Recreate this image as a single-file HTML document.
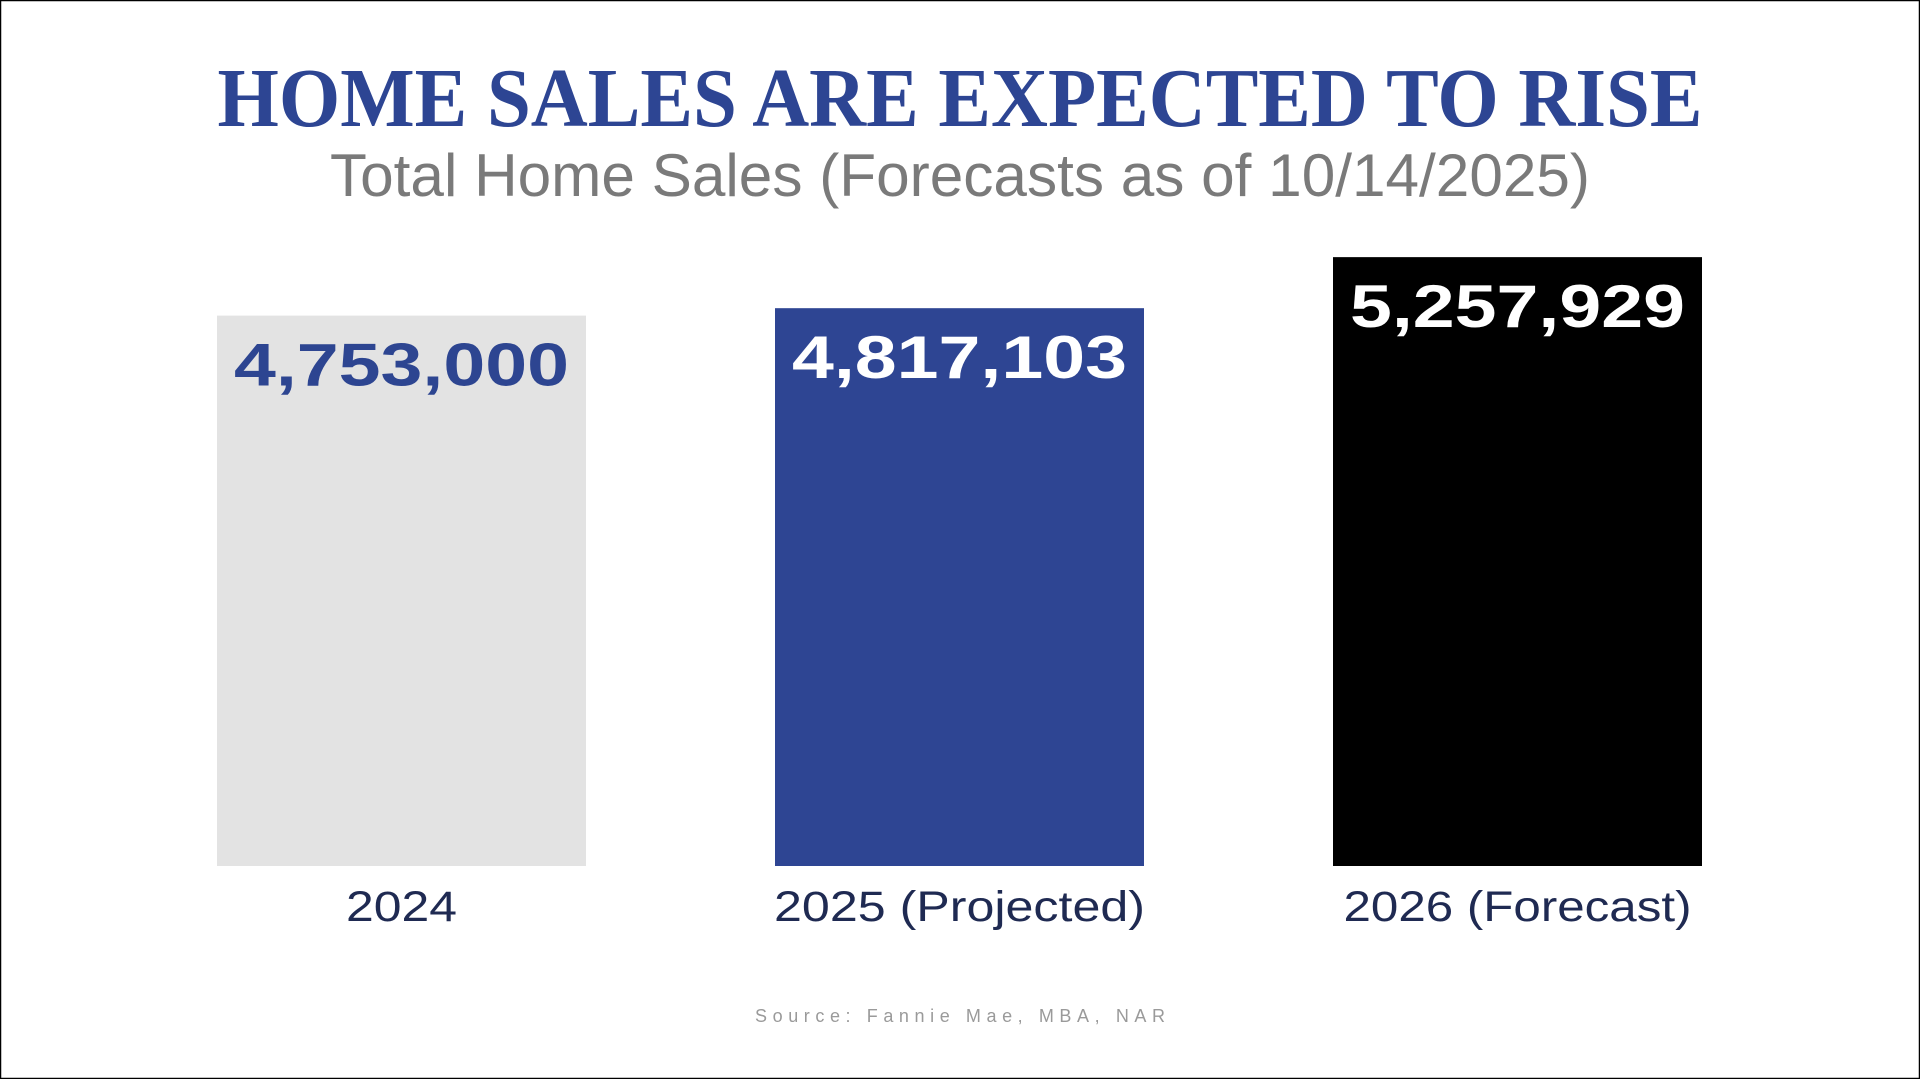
<!DOCTYPE html>
<html><head><meta charset="utf-8"><style>
html,body{margin:0;padding:0;background:#fff;}
svg{display:block;}
</style></head><body>
<svg id="chart" width="1920" height="1079" viewBox="0 0 1920 1079" xmlns="http://www.w3.org/2000/svg">
<rect x="0.5" y="0.5" width="1919" height="1078" fill="#fff" stroke="#000" stroke-width="1.5"/>
<text x="960" y="126" text-anchor="middle" font-family="'Liberation Serif',serif" font-weight="bold" font-size="84" fill="#2d4593" textLength="1485" lengthAdjust="spacingAndGlyphs">HOME SALES ARE EXPECTED TO RISE</text>
<text x="960" y="196" text-anchor="middle" font-family="'Liberation Sans',sans-serif" font-size="60" fill="#7a7a7a" textLength="1260" lengthAdjust="spacingAndGlyphs">Total Home Sales (Forecasts as of 10/14/2025)</text>
<g id="bars"></g>
<text x="960" y="1022" text-anchor="middle" font-family="'Liberation Sans',sans-serif" font-size="18" fill="#9a9a9a" textLength="410" lengthAdjust="spacing">Source: Fannie Mae, MBA, NAR</text>
</svg>
<script>
const categories = ["2024", "2025 (Projected)", "2026 (Forecast)"];
const values = [4753000, 4817103, 5257929];
const valueLabels = ["4,753,000", "4,817,103", "5,257,929"];
const barColors = ["#e3e3e3", "#2e4593", "#000000"];
const textColors = ["#2d4591", "#ffffff", "#ffffff"];

const NS = "http://www.w3.org/2000/svg";
const baseY = 866, kPx = 0.0001158;
const barW = 369, firstX = 217, step = 558;
const labelW = [111, 371, 348];
function yScale(v){ return baseY - v * kPx; }
function xScale(i){ return firstX + i * step; }
const g = document.getElementById("bars");
categories.forEach((c, i) => {
  const x = xScale(i), y = yScale(values[i]);
  const r = document.createElementNS(NS, "rect");
  
  
  r.setAttribute("x", x); r.setAttribute("y", y);
  r.setAttribute("width", barW); r.setAttribute("height", baseY - y);
  r.setAttribute("fill", barColors[i]);
  g.appendChild(r);
  const t = document.createElementNS(NS, "text");
  
  
  t.setAttribute("x", x + barW / 2); t.setAttribute("y", y + 70);
  t.setAttribute("text-anchor", "middle");
  t.setAttribute("font-family", "'Liberation Sans',sans-serif");
  t.setAttribute("font-weight", "bold"); t.setAttribute("font-size", "60");
  t.setAttribute("fill", textColors[i]);
  t.setAttribute("textLength", "335"); t.setAttribute("lengthAdjust", "spacingAndGlyphs");
  t.textContent = valueLabels[i];
  g.appendChild(t);
  const l = document.createElementNS(NS, "text");
  
  
  l.setAttribute("x", x + barW / 2); l.setAttribute("y", 921);
  l.setAttribute("text-anchor", "middle");
  l.setAttribute("font-family", "'Liberation Sans',sans-serif");
  l.setAttribute("font-size", "43"); l.setAttribute("fill", "#1f2a52");
  l.setAttribute("textLength", labelW[i]); l.setAttribute("lengthAdjust", "spacingAndGlyphs");
  l.textContent = c;
  g.appendChild(l);
});
</script>
</body></html>
